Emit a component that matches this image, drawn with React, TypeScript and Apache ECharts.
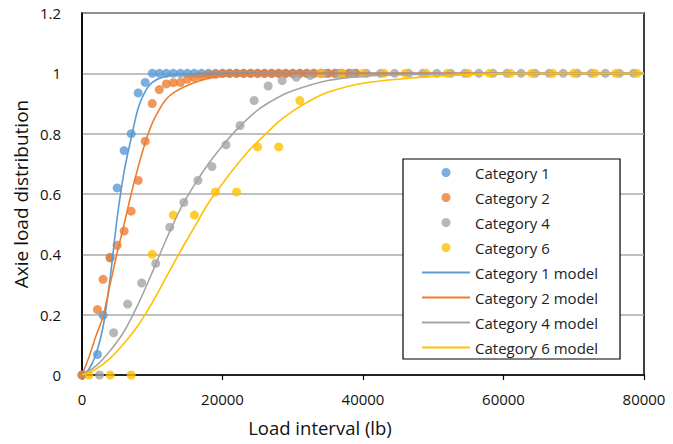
import React, { useEffect, useRef } from "react";
import * as echarts from "echarts";

// Observed data (load in lb, cumulative share)
const cat1Load = [0, 2200, 3000, 4000, 5000, 6000, 7000, 8000, 9000, 10000, 11000, 12000, 13000, 14000, 15000, 16000, 17000, 18000, 19000, 20000, 21000, 22000, 23000, 24000, 25000, 26000, 27000, 28000, 29000, 30000, 31000, 32000, 33000, 34000, 35000, 36000, 37000, 38000, 39000];
const cat1Share = [0, 0.068, 0.198, 0.39, 0.62, 0.744, 0.8, 0.935, 0.97, 1, 1, 1, 1, 1, 1, 1, 1, 1, 1, 1, 1, 1, 1, 1, 1, 1, 1, 1, 1, 1, 1, 1, 1, 1, 1, 1, 1, 1, 1];

const cat2Load = [0, 2200, 3000, 4000, 5000, 6000, 7000, 8000, 9000, 10000, 11000, 12000, 13000, 14000, 15000, 16000, 17000, 18000, 19000, 20000, 21000, 22000, 23000, 24000, 25000, 26000, 27000, 28000, 29000, 30000, 31000, 32000, 33000, 34000, 35000, 36000, 37000, 38000, 39000];
const cat2Share = [0, 0.217, 0.317, 0.388, 0.43, 0.477, 0.543, 0.645, 0.775, 0.9, 0.946, 0.965, 0.969, 0.97, 0.98, 0.986, 0.99, 0.995, 0.997, 1, 1, 1, 1, 1, 1, 1, 1, 1, 1, 1, 1, 1, 1, 1, 1, 1, 1, 1, 1];

const cat4Load = [2500, 4500, 6500, 8500, 10500, 12500, 14500, 16500, 18500, 20500, 22500, 24500, 26500, 28500, 30500, 32500, 34500, 36500, 38500, 40500, 42500, 44500, 46500, 48500, 50500, 52500, 54500, 56500, 58500, 60500, 62500, 64500, 66500, 68500, 70500, 72500, 74500, 76500, 78500];
const cat4Share = [0, 0.14, 0.235, 0.305, 0.37, 0.49, 0.572, 0.645, 0.691, 0.763, 0.827, 0.91, 0.958, 0.976, 0.987, 0.993, 1, 1, 1, 1, 1, 1, 1, 1, 1, 1, 1, 1, 1, 1, 1, 1, 1, 1, 1, 1, 1, 1, 1];

const cat6Load = [1000, 4000, 7000, 10000, 13000, 16000, 19000, 22000, 25000, 28000, 31000, 34000, 37000, 40000, 43000, 46000, 49000, 52000, 55000, 58000, 61000, 64000, 67000, 70000, 73000, 76000, 79000];
const cat6Share = [0, 0, 0, 0.4, 0.53, 0.53, 0.607, 0.607, 0.756, 0.756, 0.91, 1, 1, 1, 1, 1, 1, 1, 1, 1, 1, 1, 1, 1, 1, 1, 1];

// Model curves
const model1Load = [0, 1000, 2000, 3000, 4000, 5000, 6000, 7000, 8000, 9000, 10000, 11500, 14000, 20000, 30000, 80000];
const model1Share = [0, 0.02, 0.07, 0.16, 0.32, 0.52, 0.675, 0.785, 0.885, 0.94, 0.97, 0.987, 0.997, 1, 1, 1];

const model2Load = [0, 1000, 2000, 3000, 4000, 5000, 6000, 7000, 8000, 9000, 10000, 11000, 12000, 13000, 14500, 17000, 19000, 24000, 30000, 80000];
const model2Share = [0, 0.06, 0.13, 0.195, 0.3, 0.405, 0.5, 0.6, 0.69, 0.77, 0.835, 0.88, 0.915, 0.935, 0.955, 0.977, 0.988, 0.998, 1, 1];

const model4Load = [0, 2000, 4000, 6000, 8000, 10000, 12000, 14000, 16000, 18000, 20000, 22500, 25000, 27500, 30000, 35000, 40000, 47000, 60000, 80000];
const model4Share = [0, 0.03, 0.08, 0.145, 0.235, 0.34, 0.45, 0.55, 0.63, 0.7, 0.76, 0.825, 0.878, 0.915, 0.942, 0.976, 0.99, 0.996, 1, 1];

const model6Load = [0, 2000, 4000, 6000, 8000, 10000, 12000, 14000, 16000, 18000, 20000, 22000, 24000, 26000, 28000, 30000, 32500, 35000, 40000, 47000, 54000, 60000, 80000];
const model6Share = [0, 0.02, 0.055, 0.105, 0.165, 0.24, 0.325, 0.41, 0.49, 0.57, 0.635, 0.695, 0.75, 0.795, 0.84, 0.875, 0.91, 0.937, 0.967, 0.985, 0.995, 0.999, 1];

const pointNames = ["Category 1", "Category 2", "Category 4", "Category 6"];
const modelNames = ["Category 1 model", "Category 2 model", "Category 4 model", "Category 6 model"];
const colors = ["#5B9BD5", "#ED7D31", "#A5A5A5", "#FFC000"];

const xTicks = { min: 0, max: 80000, interval: 20000 };
const yTicks = { min: 0, max: 1.2, interval: 0.2 };

const FONT = '"Open Sans", "Noto Sans", sans-serif';

function zip(xs: number[], ys: number[]) {
  return xs.map((x, i) => [x, ys[i]]);
}

export default function App() {
  const ref = useRef<HTMLDivElement>(null);
  useEffect(() => {
    document.body.style.margin = "0";
    const chart = echarts.init(ref.current!, null, { renderer: "svg" });
    const pts = [zip(cat1Load, cat1Share), zip(cat2Load, cat2Share), zip(cat4Load, cat4Share), zip(cat6Load, cat6Share)];
    const mods = [zip(model1Load, model1Share), zip(model2Load, model2Share), zip(model4Load, model4Share), zip(model6Load, model6Share)];
    const series: any[] = [];
    pts.forEach((d, i) =>
      series.push({
        type: "scatter",
        name: pointNames[i],
        data: d,
        symbol: "circle",
        symbolSize: 9,
        itemStyle: { color: colors[i] },
        z: 2,
      })
    );
    mods.forEach((d, i) =>
      series.push({
        type: "line",
        name: modelNames[i],
        data: d,
        symbol: "none",
        smooth: 0.3,
        lineStyle: { color: colors[i], width: 1.6 },
        itemStyle: { color: colors[i] },
        z: 3,
      })
    );
    chart.setOption({
      animation: false,
      backgroundColor: "#fff",
      textStyle: { fontFamily: FONT },
      grid: {
        left: 82,
        top: 13,
        width: 562,
        height: 362,
        show: true,
        borderColor: "#000",
        borderWidth: 1.5,
        backgroundColor: "transparent",
      },
      xAxis: {
        type: "value",
        min: xTicks.min,
        max: xTicks.max,
        interval: xTicks.interval,
        axisLine: { show: true, lineStyle: { color: "#000", width: 1.5 } },
        axisTick: { show: true, inside: false, length: 5, lineStyle: { color: "#000", width: 1.2 } },
        axisLabel: {
          color: "#111",
          fontSize: 15,
          fontFamily: FONT,
          margin: 16,
          formatter: (v: number) => String(v),
        },
        splitLine: { show: false },
      },
      yAxis: {
        type: "value",
        min: yTicks.min,
        max: yTicks.max,
        interval: yTicks.interval,
        axisLine: { show: true, lineStyle: { color: "#000", width: 1.5 } },
        axisTick: { show: false },
        axisLabel: {
          color: "#111",
          fontSize: 15,
          fontFamily: FONT,
          margin: 21,
          formatter: (v: number) => String(Math.round(v * 10) / 10),
        },
        splitLine: { show: true, lineStyle: { color: "#AAAAAA", width: 1.5 } },
      },
      legend: {
        orient: "vertical",
        left: 403,
        top: 159,
        data: [
          ...pointNames,
          ...modelNames.map((n) => ({ name: n, itemStyle: { opacity: 0 } })),
        ],
        itemWidth: 48,
        itemHeight: 9,
        itemGap: 10,
        padding: [6, 22, 4, 18],
        backgroundColor: "#fff",
        borderColor: "#000",
        borderWidth: 1.2,
        borderRadius: 0,
        textStyle: { color: "#222", fontSize: 15, fontFamily: FONT },
      },
      graphic: [
        {
          type: "text",
          x: 320,
          y: 427,
          style: {
            text: "Load interval (lb)",
            font: `18.5px ${FONT}`,
            fill: "#111",
            align: "center",
            verticalAlign: "middle",
            textAlign: "center",
            textVerticalAlign: "middle",
          },
        },
        {
          type: "text",
          x: 21,
          y: 194,
          rotation: Math.PI / 2,
          style: {
            text: "Axie load distribution",
            font: `19px ${FONT}`,
            fill: "#111",
            align: "center",
            verticalAlign: "middle",
            textAlign: "center",
            textVerticalAlign: "middle",
          },
        },
      ],
      series,
    });
    return () => chart.dispose();
  }, []);
  return <div ref={ref} style={{ width: 673, height: 444 }} />;
}
